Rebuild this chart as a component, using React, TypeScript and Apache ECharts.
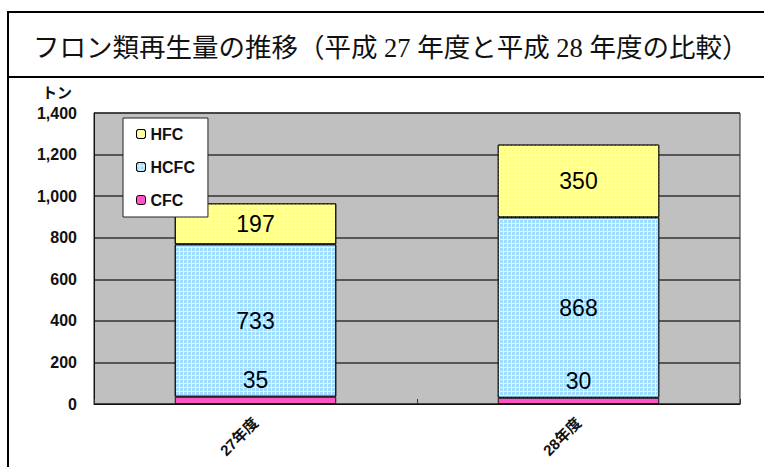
import React, { useEffect, useRef } from "react";
import * as echarts from "echarts";

const categories = ["27年度", "28年度"];
const cfcValues = [35, 30];
const hcfcValues = [733, 868];
const hfcValues = [197, 350];
const legendNames = ["HFC", "HCFC", "CFC"];
const yTicks = { min: 0, max: 1400, interval: 200 };
const titleText = "フロン類再生量の推移（平成 27 年度と平成 28 年度の比較）";
const unitText = "トン";

export default function App() {
  const ref = useRef<HTMLDivElement>(null);
  useEffect(() => {
    if (!ref.current) return;
    const chart = echarts.init(ref.current, null, { renderer: "svg" });
    const sans = "Arial, 'Liberation Sans', 'Noto Sans CJK JP', sans-serif";
    const labelInside = {
      show: true,
      position: "inside",
      color: "#000",
      fontSize: 23,
      fontFamily: sans,
    };
    const barBorder = { borderColor: "#111", borderWidth: 1 };
    chart.setOption({
      animation: false,
      backgroundColor: "#fff",
      grid: {
        left: 94,
        top: 113,
        right: 24,
        bottom: 63,
        show: true,
        backgroundColor: "#c0c0c0",
        borderColor: "#222",
        borderWidth: 1,
      },
      legend: {
        data: legendNames,
        orient: "vertical",
        left: 123,
        top: 118,
        padding: [8, 13, 9, 13],
        itemWidth: 9,
        itemHeight: 9,
        itemGap: 17,
        backgroundColor: "#fff",
        borderColor: "#222",
        borderWidth: 1,
        textStyle: {
          fontSize: 16,
          fontWeight: "bold",
          fontFamily: sans,
          color: "#111",
          lineHeight: 15,
        },
        itemStyle: { borderColor: "#000", borderWidth: 1 },
      },
      xAxis: {
        type: "category",
        data: categories,
        axisLine: { show: true, lineStyle: { color: "#111", width: 1 } },
        axisTick: { show: true, inside: true, length: 5, lineStyle: { color: "#333" } },
        axisLabel: {
          rotate: 45,
          fontSize: 15,
          fontWeight: "bold",
          fontFamily: sans,
          color: "#111",
          margin: 16,
        },
      },
      yAxis: {
        type: "value",
        min: yTicks.min,
        max: yTicks.max,
        interval: yTicks.interval,
        axisLine: { show: true, lineStyle: { color: "#111" } },
        axisTick: { show: false },
        splitLine: { show: true, lineStyle: { color: "#333", width: 1.5 } },
        axisLabel: {
          fontSize: 16,
          fontWeight: "bold",
          fontFamily: sans,
          color: "#111",
          margin: 17,
          formatter: (v: number) => v.toLocaleString("en-US"),
        },
      },
      series: [
        {
          name: "CFC",
          type: "bar",
          stack: "total",
          barWidth: "50%",
          data: cfcValues,
          itemStyle: { color: "#ff55c4", ...barBorder },
          label: { ...labelInside, position: "top", distance: 5 },
        },
        {
          name: "HCFC",
          type: "bar",
          stack: "total",
          data: hcfcValues,
          itemStyle: {
            color: "#e2f5ff",
            ...barBorder,
            decal: {
              symbol: "rect",
              symbolSize: 1,
              color: "#9fdcff",
              dashArrayX: [[3, 1]],
              dashArrayY: [3, 1],
            },
          },
          label: labelInside,
        },
        {
          name: "HFC",
          type: "bar",
          stack: "total",
          data: hfcValues,
          itemStyle: {
            color: "#ffffd0",
            ...barBorder,
            decal: {
              symbol: "rect",
              symbolSize: 1,
              color: "#ffff88",
              dashArrayX: [[3, 1]],
              dashArrayY: [3, 1],
            },
          },
          label: labelInside,
        },
      ],
      graphic: [
        {
          type: "line",
          shape: { x1: 8, y1: 12, x2: 764, y2: 12 },
          style: { stroke: "#000", lineWidth: 2 },
        },
        {
          type: "line",
          shape: { x1: 8, y1: 77, x2: 764, y2: 77 },
          style: { stroke: "#000", lineWidth: 2 },
        },
        {
          type: "line",
          shape: { x1: 8, y1: 11, x2: 8, y2: 467 },
          style: { stroke: "#000", lineWidth: 2 },
        },
        {
          type: "text",
          x: 33,
          y: 48,
          style: {
            text: titleText,
            font: "26.5px 'Liberation Serif', 'Noto Sans CJK JP', serif",
            fill: "#111",
            verticalAlign: "middle",
            textAlign: "left",
          },
        },
        {
          type: "text",
          x: 42,
          y: 91,
          style: {
            text: unitText,
            font: "bold 15px 'Noto Sans CJK JP', sans-serif",
            fill: "#111",
            verticalAlign: "middle",
            textAlign: "left",
          },
        },
      ],
    });
    return () => chart.dispose();
  }, []);
  return (
    <div
      ref={ref}
      style={{ position: "fixed", left: 0, top: 0, width: 764, height: 467 }}
    />
  );
}
